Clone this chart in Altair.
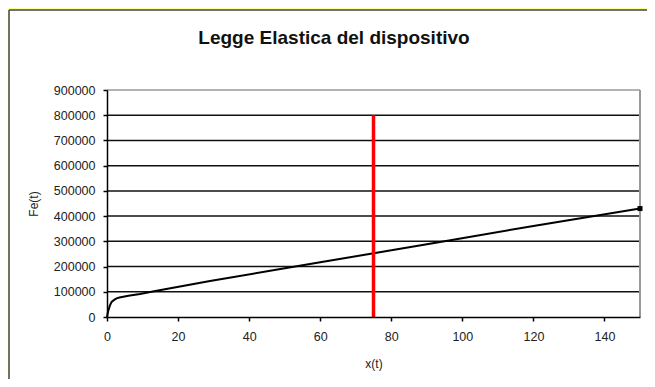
import altair as alt
import pandas as pd

# ---- data ----
x_vals = [0, 0.2, 0.4, 0.8, 1.3, 2, 2.7, 3.5, 4.6, 6, 9.3, 14, 29, 60, 95, 120, 150]
fe_vals = [0, 15000, 27000, 45000, 60000, 68000, 74000, 77000, 80000, 84000,
           91000, 104000, 143000, 217000, 300000, 361000, 430000]
red_x = [75]
red_y0 = [0]
red_y1 = [800000]
end_x = [150]
end_y = [430000]
grid_vals = [100000, 200000, 300000, 400000, 500000, 600000, 700000, 800000, 900000]
x_ticks = [0, 20, 40, 60, 80, 100, 120, 140]
y_ticks = [0, 100000, 200000, 300000, 400000, 500000, 600000, 700000, 800000, 900000]
title_text = ["Legge Elastica del dispositivo"]

curve = pd.DataFrame({"x": x_vals, "y": fe_vals})
red = pd.DataFrame({"x": red_x, "y": red_y0, "y2": red_y1})
endp = pd.DataFrame({"x": end_x, "y": end_y})
grid = pd.DataFrame({"g": grid_vals})
border = pd.DataFrame({"x": [150], "y": [0], "y2": [900000]})
one = pd.DataFrame({"t": title_text})

FONT = "Liberation Sans"
xs = alt.Scale(domain=[0, 150], nice=False)
ys = alt.Scale(domain=[0, 900000], nice=False)

ax_x = alt.Axis(title="x(t)", values=x_ticks, grid=False, zindex=1,
                labelFlush=False, labelPadding=9, titlePadding=16,
                tickSize=4)
ax_y = alt.Axis(title="Fe(t)", values=y_ticks, format="d", grid=False, zindex=1,
                labelPadding=8, titlePadding=13, tickSize=4)

W, H = 533, 227

# frame decoration: yellow strip at top/left, dark panel border
yellow_top = alt.Chart(one).mark_rect(fill="#FFFF99").encode(
    x=alt.value(-99), x2=alt.value(W + 60), y=alt.value(-82), y2=alt.value(-80)
)
yellow_left = alt.Chart(one).mark_rect(fill="#FFFF99").encode(
    x=alt.value(-99), x2=alt.value(-98), y=alt.value(-82), y2=alt.value(H + 80)
)
frame_top = alt.Chart(one).mark_rule(color="#444444", strokeWidth=1.5).encode(
    x=alt.value(-98), x2=alt.value(W + 60), y=alt.value(-80)
)
frame_left = alt.Chart(one).mark_rule(color="#444444", strokeWidth=1.5).encode(
    x=alt.value(-98), y=alt.value(-80), y2=alt.value(H + 80)
)

grid_layer = alt.Chart(grid).mark_rule(strokeWidth=1.5).encode(
    y=alt.Y("g:Q", scale=ys, axis=ax_y),
    color=alt.condition("datum.g >= 900000", alt.value("#999999"), alt.value("#111111")),
)

right_border = alt.Chart(border).mark_rule(color="#999999", strokeWidth=2).encode(
    x=alt.X("x:Q", scale=xs, axis=ax_x),
    y=alt.Y("y:Q", scale=ys, axis=ax_y),
    y2="y2:Q",
)

line = alt.Chart(curve).mark_line(color="#000000", strokeWidth=2).encode(
    x=alt.X("x:Q", scale=xs, axis=ax_x),
    y=alt.Y("y:Q", scale=ys, axis=ax_y),
)

red_line = alt.Chart(red).mark_rule(color="#ff0000", strokeWidth=3.5).encode(
    x=alt.X("x:Q", scale=xs, axis=ax_x),
    y=alt.Y("y:Q", scale=ys, axis=ax_y),
    y2="y2:Q",
)

marker = alt.Chart(endp).mark_point(shape="square", filled=True, color="#000000",
                                     size=25, opacity=1).encode(
    x=alt.X("x:Q", scale=xs, axis=ax_x),
    y=alt.Y("y:Q", scale=ys, axis=ax_y),
)

title = alt.Chart(one).mark_text(font=FONT, fontSize=19, fontWeight="bold",
                                 color="#111111", align="center",
                                 baseline="alphabetic").encode(
    x=alt.value(227), y=alt.value(-46), text="t:N"
)

chart = alt.layer(yellow_top, yellow_left, frame_top, frame_left, grid_layer,
                  right_border, line, red_line, marker, title).properties(
    width=W, height=H,
    autosize=alt.AutoSizeParams(type="none"),
    padding={"left": 99, "top": 82, "right": 7, "bottom": 62},
    background="white",
).configure_view(stroke=None).configure_axis(
    labelFont=FONT, labelFontSize=12.5, labelColor="#222222",
    titleFont=FONT, titleFontSize=12, titleFontWeight="normal", titleColor="#222222",
    domainColor="#000000", domainWidth=1.5, tickColor="#000000", tickWidth=1.5,
)

chart.save("out.html", embed_options={"renderer": "svg", "actions": False})
